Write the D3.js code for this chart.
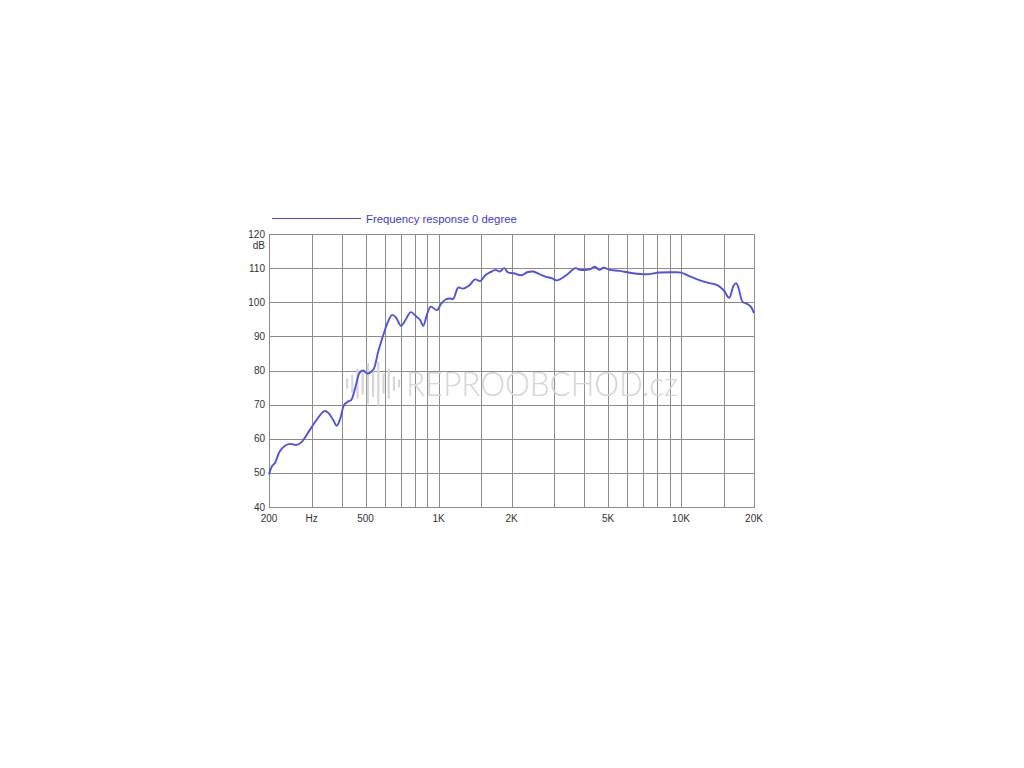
<!DOCTYPE html>
<html>
<head>
<meta charset="utf-8">
<script src="https://cdn.jsdelivr.net/npm/d3@7"></script>
<style>
  body { margin: 0; background: #fff; }
  svg { display: block; }
  text { font-family: "Liberation Sans", Arial, sans-serif; }
</style>
</head>
<body>
<div id="chart"></div>
<script>
var freqHz = [
  200, 206, 212, 221, 232, 244, 260, 273, 295, 314,
  338, 351, 368, 380, 392, 408, 424, 437, 454, 473,
  489, 510, 538, 564, 592, 621, 644, 668, 700, 727,
  769, 810, 840, 865, 900, 929, 986, 1024, 1070, 1117,
  1150, 1206, 1262, 1338, 1415, 1487, 1562, 1637, 1719, 1792,
  1868, 1929, 2043, 2195, 2322, 2457, 2591, 2763, 2945, 3076,
  3374, 3672, 3828, 4068, 4250, 4414, 4601, 4806, 5082, 5591,
  6339, 7190, 8155, 9260, 10030, 10690, 11590, 12760, 14050, 14970,
  15800, 16480, 16900, 17280, 17950, 18500, 19040, 19500, 20000
];
var levelDb = [
  49.5, 52.0, 53.0, 56.2, 57.9, 58.5, 58.2, 59.1, 62.6, 65.5,
  68.1, 67.6, 65.5, 63.8, 65.5, 69.9, 70.9, 71.4, 75.0, 79.4,
  80.0, 79.1, 80.2, 85.5, 90.4, 94.5, 96.3, 95.5, 93.1, 94.5,
  97.1, 95.8, 94.8, 93.1, 96.8, 98.7, 97.7, 99.5, 100.8, 101.1,
  101.0, 104.3, 104.0, 104.9, 106.7, 106.2, 108.0, 108.8, 109.5, 109.0,
  110.0, 108.8, 108.5, 107.9, 108.8, 109.0, 108.3, 107.5, 107.0, 106.4,
  108.0, 110.0, 109.5, 109.5, 109.8, 110.4, 109.5, 110.1, 109.5, 109.2,
  108.5, 108.2, 108.7, 108.8, 108.7, 107.8, 106.8, 105.8, 105.1, 103.6,
  101.3, 104.9, 105.6, 104.1, 100.1, 99.7, 99.2, 98.5, 96.8
];

// grid + tick labels
var xGrid = [300, 400, 500, 600, 700, 800, 900, 1000, 1500, 2000,
             3000, 4000, 5000, 6000, 7000, 8000, 9000, 10000, 15000];
var xLabels = [
  { f: 200, t: "200" }, { f: 300, t: "Hz" }, { f: 500, t: "500" },
  { f: 1000, t: "1K" }, { f: 2000, t: "2K" }, { f: 5000, t: "5K" },
  { f: 10000, t: "10K" }, { f: 20000, t: "20K" }
];
var yTicks = [40, 50, 60, 70, 80, 90, 100, 110, 120];

var legendLabel = "Frequency response 0 degree";
var watermark = "REPROOBCHOD.cz";
var logoBars = [10, 18, 30, 22, 40, 26, 44, 20, 30, 14, 8];

var width = 1024, height = 768;
var margin = {top: 234, right: 270, bottom: 261, left: 269};
var w = width - margin.left - margin.right;
var h = height - margin.top - margin.bottom;

var svg = d3.select("#chart").append("svg")
    .attr("width", width)
    .attr("height", height);

var g = svg.append("g")
    .attr("transform", "translate(" + margin.left + "," + margin.top + ")");

var xScale = d3.scaleLog().domain([200, 20000]).range([0, w]);
var yScale = d3.scaleLinear().domain([40, 120]).range([h, 0]);

var gridColor = "#8c8c8c";

// horizontal grid
g.selectAll("line.hgrid")
    .data(yTicks)
  .enter().append("line")
    .attr("class", "hgrid")
    .attr("x1", 0).attr("x2", w)
    .attr("y1", function(d){ return Math.round(yScale(d)) + 0.5; })
    .attr("y2", function(d){ return Math.round(yScale(d)) + 0.5; })
    .style("stroke", gridColor)
    .style("stroke-width", 1);

// vertical grid
g.selectAll("line.vgrid")
    .data(xGrid)
  .enter().append("line")
    .attr("class", "vgrid")
    .attr("y1", 0).attr("y2", h)
    .attr("x1", function(d){ return Math.round(xScale(d)) + 0.5; })
    .attr("x2", function(d){ return Math.round(xScale(d)) + 0.5; })
    .style("stroke", gridColor)
    .style("stroke-width", 1);

// frame
g.append("rect")
    .attr("x", 0.5).attr("y", 0.5)
    .attr("width", w).attr("height", h)
    .style("fill", "none")
    .style("stroke", "#8c8c8c")
    .style("stroke-width", 1);

// watermark (logo bars + text)
var wm = g.append("g").attr("transform", "translate(0," + (yScale(75) - 4) + ")");
wm.selectAll("rect")
    .data(logoBars)
  .enter().append("rect")
    .attr("x", function(d, i){ return 77 + i * 5.2; })
    .attr("y", function(d){ return -d / 2; })
    .attr("width", 2.2)
    .attr("height", function(d){ return d; })
    .style("fill", "#d6d6d6");
wm.append("text")
    .attr("x", 137)
    .attr("y", 12)
    .attr("textLength", 272)
    .attr("lengthAdjust", "spacingAndGlyphs")
    .style("font-family", "Lato, 'Open Sans', sans-serif")
    .style("font-weight", 300)
    .style("font-size", "33px")
    .style("fill", "#d6d6d6")
    .text(watermark);

// curve
var line = d3.line()
    .x(function(d){ return xScale(d[0]); })
    .y(function(d){ return yScale(d[1]); })
    .curve(d3.curveCatmullRom.alpha(0.5));

var pts = freqHz.map(function(f, i){ return [f, levelDb[i]]; });

g.append("path")
    .datum(pts)
    .attr("d", line)
    .style("fill", "none")
    .style("stroke", "#5151e3")
    .style("stroke-width", 1.9)
    .style("stroke-linejoin", "round");

// y tick labels
g.selectAll("text.ylab")
    .data(yTicks)
  .enter().append("text")
    .attr("class", "ylab")
    .attr("x", -4)
    .attr("y", function(d){ return yScale(d); })
    .attr("dy", "0.35em")
    .style("text-anchor", "end")
    .style("font-size", "10px")
    .style("fill", "#333")
    .text(function(d){ return d; });

g.append("text")
    .attr("x", -4)
    .attr("y", yScale(120) + 15)
    .style("text-anchor", "end")
    .style("font-size", "10px")
    .style("fill", "#333")
    .text("dB");

// x tick labels
g.selectAll("text.xlab")
    .data(xLabels)
  .enter().append("text")
    .attr("class", "xlab")
    .attr("x", function(d){ return xScale(d.f); })
    .attr("y", h + 15)
    .style("text-anchor", "middle")
    .style("font-size", "10px")
    .style("fill", "#333")
    .text(function(d){ return d.t; });

// legend
var legend = svg.append("g").attr("transform", "translate(272,218.5)");
legend.append("line")
    .attr("x1", 0).attr("x2", 89)
    .attr("y1", 0).attr("y2", 0)
    .style("stroke", "#4b4be3")
    .style("stroke-width", 1.2);
legend.append("text")
    .attr("x", 94)
    .attr("y", 4)
    .style("font-size", "11.3px")
    .style("fill", "#3a3ae6")
    .text(legendLabel);
</script>
</body>
</html>
